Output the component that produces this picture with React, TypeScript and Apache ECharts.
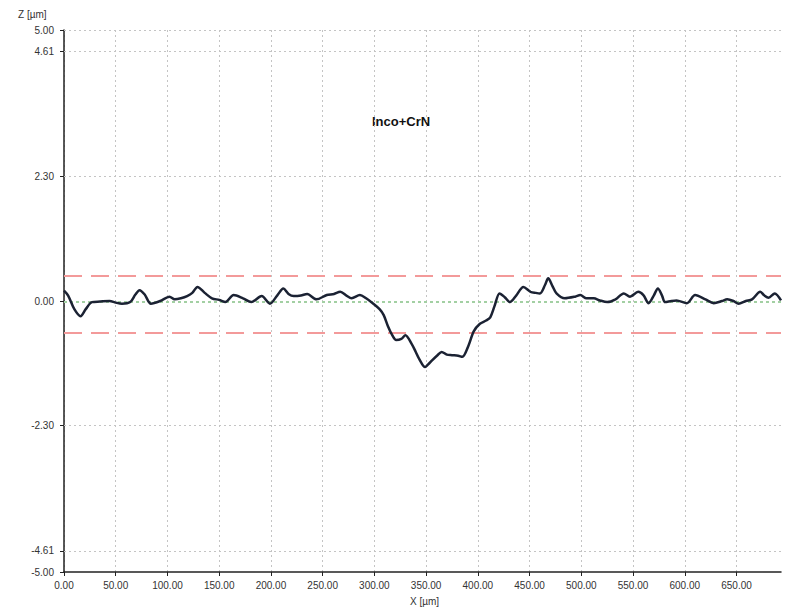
import React, { useEffect, useRef } from "react";
import * as echarts from "echarts";

const profileX = [0, 4, 10, 16, 21, 27, 35, 44, 50, 56, 64, 69, 73, 78, 84, 93, 102, 107, 113, 119, 124, 129, 136, 143, 150, 156, 164, 173, 181, 191, 199, 206, 212, 217, 222, 229, 235, 244, 254, 261, 267, 273, 278, 286, 292, 299, 305, 309, 313, 317, 321, 326, 330, 336, 340, 343, 349, 352, 356, 361, 365, 370, 375, 381, 385, 391, 396, 402, 408, 412, 416, 421, 426, 431, 437, 444, 451, 456, 460, 465, 468, 472, 476, 484, 494, 499, 505, 512, 518, 525, 533, 541, 547, 555, 560, 565, 570, 574, 578, 581, 587, 592, 602, 610, 620, 628, 636, 641, 647, 652, 659, 665, 673, 677, 681, 687, 693];
const profileZ = [0.19, 0.1, -0.15, -0.28, -0.15, -0.02, -0.01, 0.0, -0.03, -0.05, -0.02, 0.12, 0.2, 0.12, -0.05, 0.0, 0.08, 0.03, 0.05, 0.09, 0.15, 0.26, 0.15, 0.05, 0.02, -0.02, 0.11, 0.05, -0.02, 0.09, -0.05, 0.1, 0.23, 0.13, 0.09, 0.1, 0.13, 0.03, 0.11, 0.13, 0.17, 0.1, 0.05, 0.11, 0.05, -0.05, -0.15, -0.26, -0.46, -0.62, -0.72, -0.7, -0.63, -0.79, -0.94, -1.06, -1.22, -1.17, -1.09, -1.0, -0.94, -0.99, -1.0, -1.01, -1.03, -0.82, -0.56, -0.42, -0.36, -0.3, -0.1, 0.14, 0.07, -0.02, 0.1, 0.26, 0.17, 0.15, 0.14, 0.3, 0.42, 0.28, 0.14, 0.05, 0.08, 0.11, 0.05, 0.05, 0.01, -0.02, 0.03, 0.14, 0.08, 0.17, 0.11, -0.04, 0.1, 0.23, 0.1, -0.02, 0.0, 0.01, -0.04, 0.11, 0.03, -0.04, 0.0, 0.03, 0.0, -0.05, 0.0, 0.03, 0.17, 0.1, 0.06, 0.14, 0.01];

const yTickValues = [-5, -4.61, -2.3, 0, 2.3, 4.61, 5];
const yGridValues = [5, 4.61, 2.3, -2.3, -4.61];
const xTickValues = [0, 50, 100, 150, 200, 250, 300, 350, 400, 450, 500, 550, 600, 650];
const limitLines = [0.46, -0.58];
const meanLine = -0.02;
const xMax = 693;
const titleText = "Inco+CrN";
const yAxisName = "Z [µm]";
const xAxisName = "X [µm]";

export default function App() {
  const ref = useRef<HTMLDivElement>(null);
  useEffect(() => {
    if (!ref.current) return;
    const chart = echarts.init(ref.current, null, { renderer: "svg" });
    const labelStyle = { color: "#333", fontSize: 10, fontFamily: "Liberation Sans, Arial, sans-serif" };
    const grid = { type: [2, 3], color: "#c4c4c4", width: 1 };
    chart.setOption({
      animation: false,
      backgroundColor: "#ffffff",
      grid: { left: 64, right: 6, top: 30, bottom: 35 },
      xAxis: {
        type: "value",
        min: 0,
        max: xMax,
        interval: 50,
        axisLine: { onZero: false, lineStyle: { color: "#222", width: 1.5 } },
        axisTick: { show: true, length: 4, customValues: xTickValues, lineStyle: { color: "#222" } },
        axisLabel: { ...labelStyle, margin: 8, customValues: xTickValues, formatter: (v: number) => v.toFixed(2) },
        splitLine: { show: true, lineStyle: grid },
      },
      yAxis: {
        type: "value",
        min: -5,
        max: 5,
        axisLine: { show: true, onZero: false, lineStyle: { color: "#222", width: 1.5 } },
        axisTick: { show: true, length: 4, customValues: yTickValues, lineStyle: { color: "#222" } },
        axisLabel: { ...labelStyle, margin: 10, customValues: yTickValues, formatter: (v: number) => v.toFixed(2) },
        splitLine: { show: false },
      },
      graphic: [
        { type: "text", left: 372, top: 115, style: { text: titleText, font: "bold 13px Liberation Sans, Arial, sans-serif", fill: "#111" } },
        { type: "text", left: 18, top: 9, style: { text: yAxisName, font: "10px Liberation Sans, Arial, sans-serif", fill: "#333" } },
        { type: "text", left: 410, top: 596, style: { text: xAxisName, font: "10px Liberation Sans, Arial, sans-serif", fill: "#333" } },
      ],
      series: [
        {
          type: "line",
          data: [],
          z: 1,
          markLine: {
            silent: true,
            symbol: "none",
            label: { show: false },
            lineStyle: grid,
            data: yGridValues.map((v) => ({ yAxis: v })),
          },
        },
        {
          type: "line",
          data: [],
          z: 2,
          markLine: {
            silent: true,
            symbol: "none",
            label: { show: false },
            lineStyle: { type: [18, 9], color: "#f39a9a", width: 2 },
            data: limitLines.map((v) => ({ yAxis: v })),
          },
        },
        {
          type: "line",
          data: [],
          z: 2,
          markLine: {
            silent: true,
            symbol: "none",
            label: { show: false },
            lineStyle: { type: [3, 3], color: "#a3d0a3", width: 2 },
            data: [{ yAxis: meanLine }],
          },
        },
        {
          type: "line",
          z: 5,
          data: profileX.map((x, i) => [x, profileZ[i]]),
          showSymbol: false,
          smooth: 0.3,
          lineStyle: { color: "#1b2233", width: 2.5 },
        },
      ],
    });
    return () => chart.dispose();
  }, []);
  return <div ref={ref} style={{ position: "fixed", left: 0, top: 0, width: 787, height: 607, background: "#fff" }} />;
}
